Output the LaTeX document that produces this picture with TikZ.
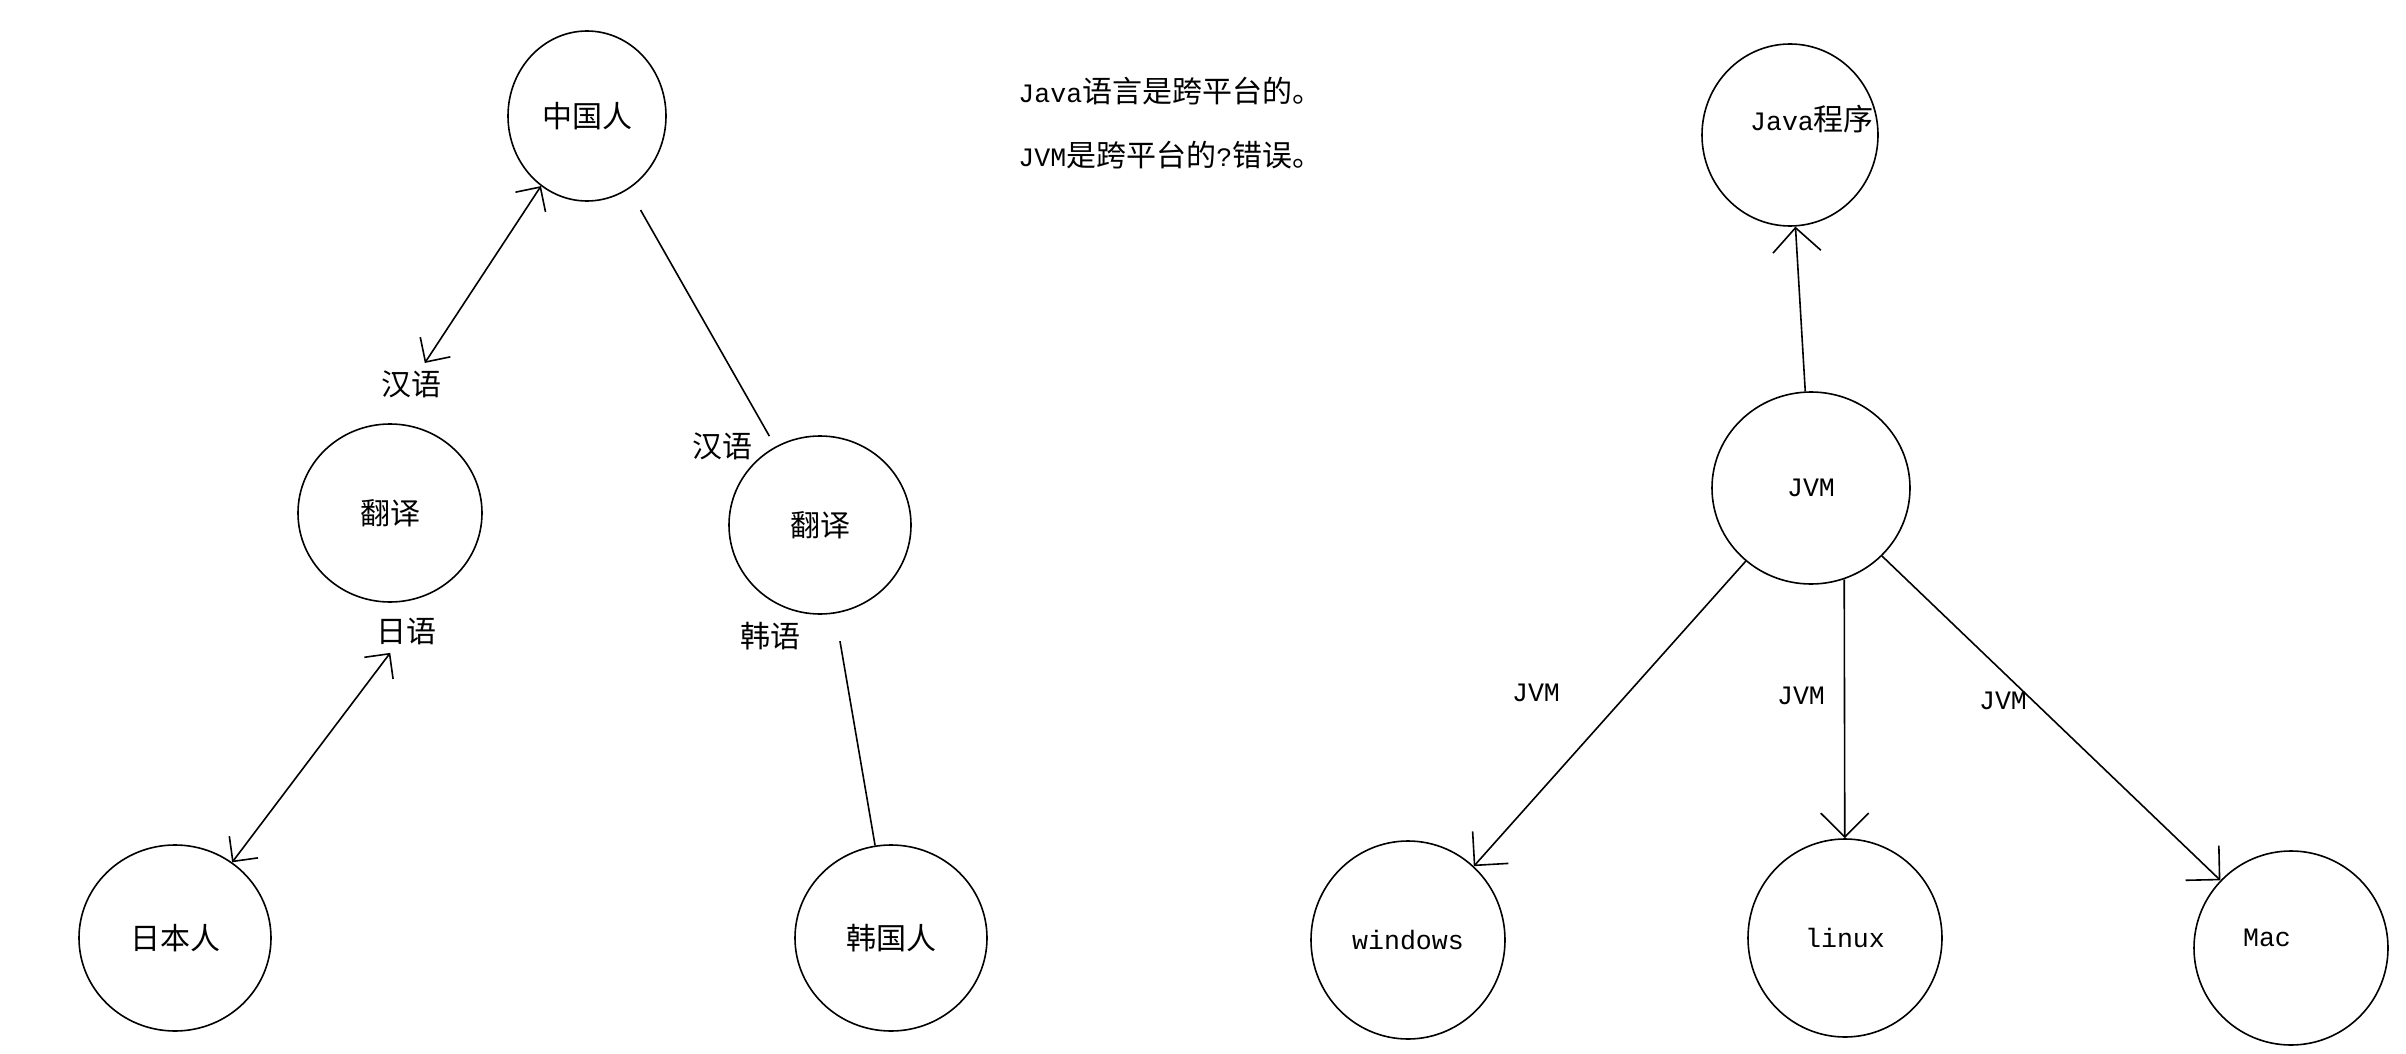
\documentclass[tikz,border=0pt]{standalone}
\usepackage{fontspec}
\setmainfont{Liberation Mono}
\newfontfamily\zhfont{Noto Sans CJK SC}
\newcommand{\zhtext}[1]{{\fontsize{15}{18}\zhfont #1}}
\usetikzlibrary{
	arrows.meta,shapes
}

\begin{document}
\begin{tikzpicture}[x=0.5pt,y=-0.5pt,line width=0.8pt,font=\fontsize{13.3}{16}\selectfont,
	ball/.style 2 args={draw,ellipse,inner sep=0pt,minimum width=#1,minimum height=#2}]
		\useasboundingbox (0,0) rectangle (2406,1054);
		\node[ball={79pt}{85pt}] (CN) at (587,116) {\zhtext{中国人}};
		\node[ball={92pt}{89pt}] (TR) at (390,513) {\zhtext{翻译}};
		\node[ball={91pt}{89pt}] (TR') at (820,525) {\zhtext{翻译}};
		\node[ball={96pt}{93pt}] (JP) at (175,938) {\zhtext{日本人}};
		\node[ball={96pt}{93pt}] (KR) at (891,938) {\zhtext{韩国人}};
		\node (cn) at (411,384) {\zhtext{汉语}};
		\node (jp) at (406,632) {\zhtext{日语}};
		\node (cn') at (722,446) {\zhtext{汉语}};
		\node (kr) at (770,636) {\zhtext{韩语}};
		
		\node[anchor=west] (note) at (1011,91) {Java\zhtext{语言是跨平台的。}};
		\node[anchor=west] (note') at (1011,155) {JVM\zhtext{是跨平台的}?\zhtext{错误。}};
		
		\node[ball={88pt}{91pt},label={[xshift=11pt,yshift=8pt]center:Java\zhtext{程序}}] (P) at (1790,135) {};
		\node[ball={99pt}{96pt}] (V) at (1811,488) {JVM};
		\node[ball={97pt}{99pt}] (W) at (1408,940) {windows};
		\node[ball={97pt}{99pt}] (L) at (1845,938) {linux};
		\node[ball={97pt}{97pt},label={[xshift=-12pt,yshift=5pt]center:Mac}] (M) at (2291,948) {};
		\node (V1) at (1536,693) {JVM};
		\node (V2) at (1801,696) {JVM};
		\node (V3) at (2003,701) {JVM};
		
		%
		\path[->,>={Straight Barb[length=9pt,width=18pt]}]
		(CN) edge[<->] (cn)
		(jp) edge[<->] (JP)
		(CN) edge[-,shorten <=12pt,shorten >=6pt] (TR')
		(TR') edge[-,shorten <=14pt] (KR);
		
		\path[->,>={Straight Barb[length=12pt,width=24pt]}]
		(V) edge (P)
		(V) edge (W)
		(V.-70) edge (L)
		(V) edge (M);
		
	\end{tikzpicture}
\end{document}
